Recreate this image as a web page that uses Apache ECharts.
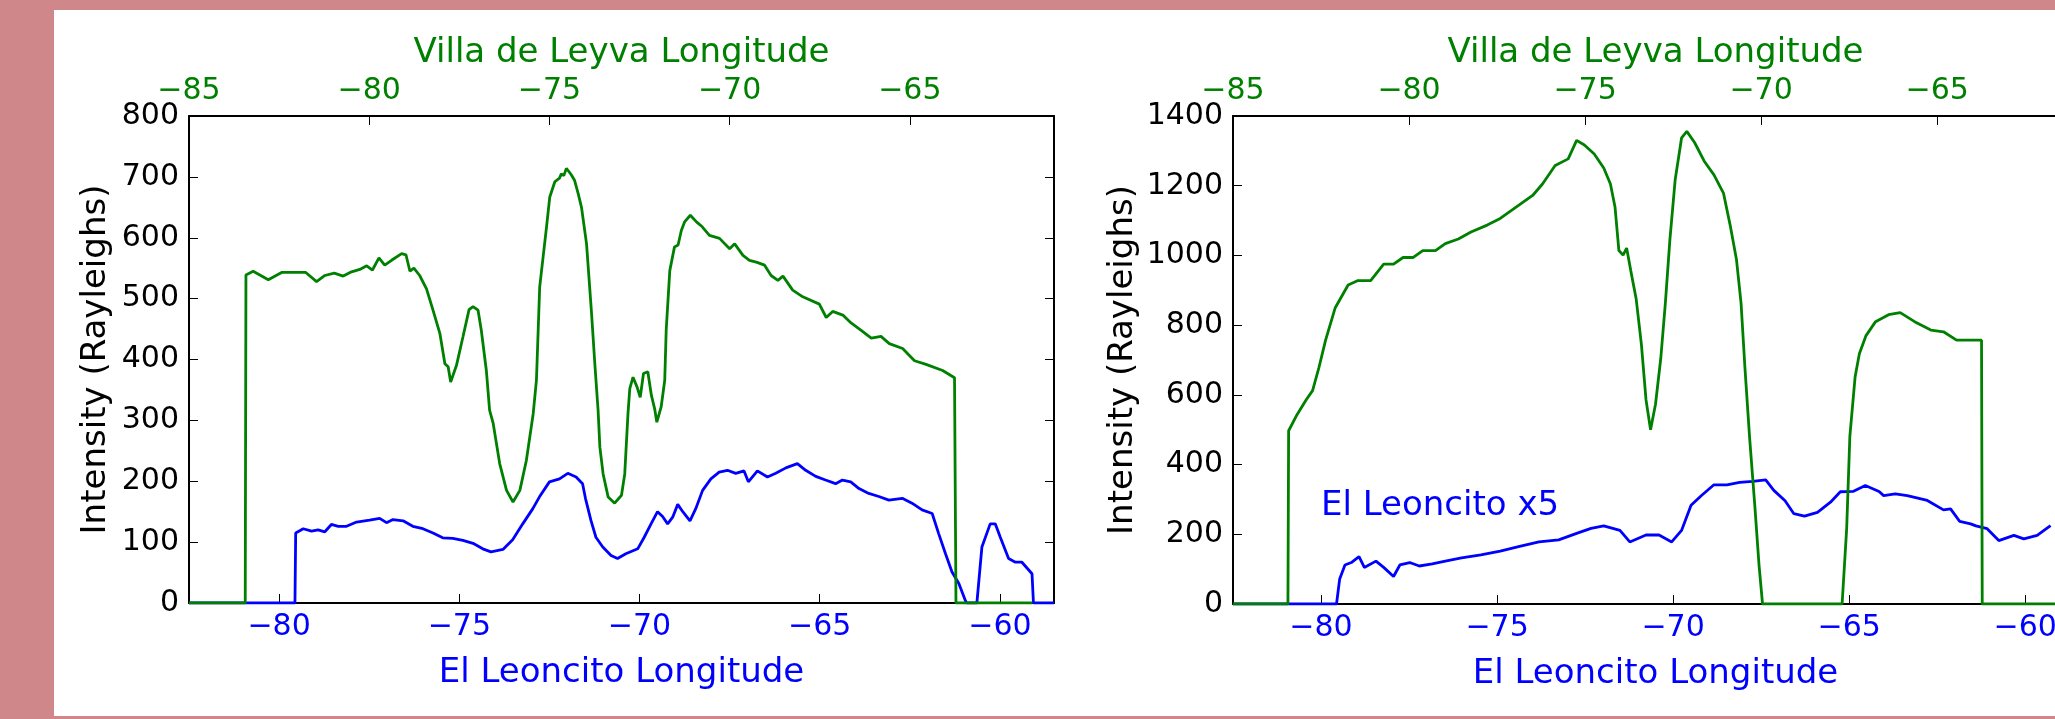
<!DOCTYPE html>
<html>
<head>
<meta charset="utf-8">
<title>Intensity vs longitude</title>
<script src="https://cdn.jsdelivr.net/npm/echarts@6/dist/echarts.min.js"></script>
<style>
  html, body { margin: 0; padding: 0; background: #d0878a; }
  #main { width: 2055px; height: 719px; }
</style>
</head>
<body>
<div id="main"></div>
<script>
// ---- data (longitude in degrees, intensity in Rayleighs) ----
// left panel, Villa de Leyva (top axis)
var leftVillaLon = [-85.0, -83.44, -83.42, -83.22, -82.80, -82.43, -81.76, -81.46, -81.23, -80.97, -80.72, -80.49, -80.26, -80.07, -79.91, -79.73, -79.57, -79.38, -79.10, -78.98, -78.87, -78.76, -78.60, -78.41, -78.23, -78.04, -77.90, -77.81, -77.74, -77.58, -77.40, -77.23, -77.12, -76.98, -76.89, -76.75, -76.66, -76.56, -76.38, -76.19, -76.01, -75.82, -75.64, -75.45, -75.36, -75.27, -75.08, -74.99, -74.85, -74.72, -74.67, -74.60, -74.53, -74.45, -74.39, -74.30, -74.20, -74.11, -73.97, -73.83, -73.74, -73.65, -73.60, -73.51, -73.37, -73.19, -73.00, -72.91, -72.82, -72.77, -72.68, -72.57, -72.48, -72.39, -72.27, -72.17, -72.08, -72.02, -71.90, -71.80, -71.76, -71.66, -71.53, -71.43, -71.34, -71.25, -71.09, -70.92, -70.76, -70.56, -70.28, -70.00, -69.86, -69.63, -69.45, -69.26, -69.03, -68.85, -68.66, -68.52, -68.25, -67.97, -67.51, -67.32, -67.14, -66.86, -66.63, -66.35, -66.07, -65.80, -65.57, -65.20, -64.87, -64.55, -64.09, -63.76, -63.72, -61.6];
var leftVillaR = [0, 0, 539, 545, 531, 543, 543, 528, 538, 542, 537, 544, 548, 554, 547, 567, 555, 563, 574, 572, 545, 550, 538, 516, 481, 443, 393, 388, 363, 390, 437, 482, 487, 481, 448, 382, 317, 295, 229, 185, 166, 185, 234, 311, 366, 519, 618, 667, 692, 698, 705, 702, 714, 708, 703, 694, 672, 650, 590, 475, 393, 317, 256, 212, 174, 164, 177, 212, 311, 352, 371, 355, 338, 377, 380, 341, 319, 297, 322, 366, 448, 546, 585, 588, 612, 626, 637, 626, 618, 604, 599, 582, 590, 571, 563, 560, 555, 538, 530, 537, 514, 503, 491, 469, 479, 473, 460, 448, 435, 438, 426, 418, 398, 392, 382, 370, 0, 0];
// left panel, El Leoncito (bottom axis)
var leftLeonLon = [-82.5, -79.56, -79.54, -79.33, -79.10, -78.92, -78.73, -78.55, -78.36, -78.13, -77.85, -77.49, -77.21, -77.02, -76.84, -76.56, -76.29, -76.01, -75.73, -75.46, -75.18, -74.90, -74.62, -74.35, -74.12, -73.79, -73.52, -73.24, -72.96, -72.78, -72.50, -72.22, -71.99, -71.76, -71.58, -71.50, -71.35, -71.21, -71.02, -70.79, -70.61, -70.38, -70.05, -69.87, -69.68, -69.50, -69.36, -69.22, -69.08, -68.94, -68.80, -68.60, -68.44, -68.25, -68.02, -67.79, -67.56, -67.33, -67.10, -66.98, -66.73, -66.45, -66.22, -65.94, -65.62, -65.39, -65.11, -64.84, -64.56, -64.37, -64.14, -63.91, -63.64, -63.36, -63.08, -62.71, -62.44, -62.16, -61.88, -61.70, -61.51, -61.33, -61.14, -60.96, -60.92, -60.64, -60.50, -60.27, -60.13, -59.99, -59.76, -59.57, -59.39, -59.11, -59.07, -58.5];
var leftLeonR = [0, 0, 115, 122, 118, 120, 117, 129, 126, 126, 133, 136, 139, 132, 137, 135, 126, 122, 115, 107, 106, 103, 98, 89, 84, 88, 104, 130, 155, 174, 199, 204, 213, 207, 196, 172, 136, 108, 92, 78, 73, 81, 89, 108, 130, 150, 142, 130, 141, 162, 150, 135, 155, 185, 204, 215, 218, 213, 217, 199, 217, 207, 213, 222, 229, 218, 208, 202, 196, 202, 199, 188, 180, 175, 169, 172, 164, 153, 147, 114, 81, 51, 32, 4, 0, 0, 92, 130, 130, 108, 73, 67, 67, 48, 0, 0];
// right panel, Villa de Leyva (top axis)
var rightVillaLon = [-85.0, -83.44, -83.42, -83.20, -82.92, -82.74, -82.56, -82.37, -82.10, -81.73, -81.45, -81.09, -80.72, -80.44, -80.17, -79.89, -79.61, -79.25, -78.97, -78.60, -78.24, -77.78, -77.41, -76.95, -76.49, -76.21, -75.85, -75.48, -75.24, -75.02, -74.74, -74.47, -74.28, -74.15, -74.04, -73.92, -73.82, -73.70, -73.55, -73.40, -73.27, -73.14, -73.00, -72.85, -72.72, -72.59, -72.44, -72.26, -72.11, -71.89, -71.62, -71.34, -71.07, -70.88, -70.70, -70.57, -70.46, -70.33, -70.18, -70.06, -69.96, -67.70, -67.57, -67.48, -67.33, -67.21, -67.02, -66.75, -66.38, -66.05, -65.64, -65.18, -64.82, -64.45, -64.00, -63.74, -63.72, -61.6];
var rightVillaR = [0, 0, 497, 540, 586, 612, 678, 757, 849, 915, 928, 928, 975, 975, 994, 994, 1014, 1014, 1034, 1047, 1067, 1087, 1106, 1139, 1172, 1205, 1258, 1277, 1330, 1317, 1291, 1251, 1205, 1139, 1014, 1001, 1021, 955, 876, 744, 586, 500, 573, 705, 863, 1047, 1218, 1337, 1356, 1324, 1271, 1231, 1179, 1087, 988, 863, 678, 481, 283, 112, 0, 0, 217, 481, 652, 718, 770, 810, 830, 836, 810, 786, 781, 757, 757, 757, 0, 0];
// right panel, El Leoncito x5 (bottom axis)
var rightLeonLon = [-82.5, -79.56, -79.47, -79.32, -79.14, -78.92, -78.77, -78.44, -78.22, -77.94, -77.76, -77.48, -77.21, -76.84, -76.47, -76.01, -75.46, -74.91, -74.36, -73.81, -73.25, -72.70, -72.33, -71.97, -71.51, -71.23, -70.77, -70.40, -70.04, -69.76, -69.49, -69.21, -68.84, -68.47, -68.11, -67.74, -67.37, -67.14, -66.82, -66.57, -66.27, -65.90, -65.53, -65.25, -64.89, -64.54, -64.15, -64.02, -63.69, -63.35, -62.78, -62.32, -62.12, -61.86, -61.55, -61.40, -61.08, -60.75, -60.32, -60.04, -59.66, -59.28];
var rightLeonR = [0, 0, 72, 112, 119, 136, 105, 123, 105, 79, 112, 119, 109, 115, 123, 132, 141, 152, 165, 178, 184, 204, 217, 224, 211, 178, 198, 198, 178, 211, 283, 310, 342, 342, 349, 352, 356, 326, 296, 259, 252, 263, 292, 322, 323, 340, 323, 311, 316, 311, 297, 270, 273, 237, 230, 224, 216, 182, 197, 187, 197, 225];

// tick labels
var bottomTicks = [-80, -75, -70, -65, -60];
var topTicks = [-85, -80, -75, -70, -65];

var FONT = 'DejaVu Sans';
var GREEN = '#008000';
var BLUE = '#0000ff';

function pairs(xs, ys) {
  return xs.map(function (x, i) { return [x, ys[i]]; });
}
function fmt(v) {
  return v < 0 ? '\u2212' + Math.abs(v) : String(v);
}

function xAxisDef(grid, pos, min, max, ticks, color, name, gap, margin) {
  return {
    type: 'value', gridIndex: grid, position: pos, min: min, max: max,
    name: name, nameLocation: 'middle', nameGap: gap,
    nameTextStyle: { color: color, fontFamily: FONT, fontSize: 34 },
    axisLine: { show: true, onZero: false, lineStyle: { color: '#000', width: 2 } },
    axisTick: { show: true, inside: true, length: 9, customValues: ticks, lineStyle: { color: '#000', width: 1 } },
    axisLabel: {
      show: true, customValues: ticks, formatter: fmt, color: color,
      fontFamily: FONT, fontSize: 30, margin: margin,
      alignMinLabel: 'center', alignMaxLabel: 'center', hideOverlap: false
    },
    splitLine: { show: false }
  };
}

function yAxisDef(grid, pos, max, step, showLabel, gap) {
  return {
    type: 'value', gridIndex: grid, position: pos, min: 0, max: max, interval: step,
    name: showLabel ? 'Intensity (Rayleighs)' : '', nameLocation: 'middle', nameGap: gap,
    nameTextStyle: { color: '#000', fontFamily: FONT, fontSize: 34 },
    axisLine: { show: true, onZero: false, lineStyle: { color: '#000', width: 2 } },
    axisTick: { show: true, inside: true, length: 9, lineStyle: { color: '#000', width: 1 } },
    axisLabel: {
      show: showLabel, color: '#000', fontFamily: FONT, fontSize: 30, margin: 10,
      formatter: function (v) { return String(v); }
    },
    splitLine: { show: false }
  };
}

function lineSeries(x, y, data, color) {
  return {
    type: 'line', xAxisIndex: x, yAxisIndex: y, data: data,
    symbol: 'none', smooth: false, clip: true,
    lineStyle: { color: color, width: 2.8 }, itemStyle: { color: color }
  };
}

var myChart = echarts.init(document.getElementById('main'));

var panel = { type: 'rect', z: -10, silent: true, shape: { x: 54, y: 10, width: 2010, height: 706 }, style: { fill: '#ffffff' } };

var option = {
  animation: false,
  backgroundColor: '#d0878a',
  textStyle: { fontFamily: FONT },
  grid: [
    { left: 189, top: 116, width: 865, height: 487, outerBoundsMode: 'none' },
    { left: 1233, top: 116, width: 845, height: 488, outerBoundsMode: 'none' }
  ],
  xAxis: [
    xAxisDef(0, 'bottom', -82.5, -58.5, bottomTicks, BLUE, 'El Leoncito Longitude', 53, 9),
    xAxisDef(0, 'top', -85, -61, topTicks, GREEN, 'Villa de Leyva Longitude', 46, 10),
    xAxisDef(1, 'bottom', -82.5, -58.5, bottomTicks, BLUE, 'El Leoncito Longitude', 53, 9),
    xAxisDef(1, 'top', -85, -61, topTicks, GREEN, 'Villa de Leyva Longitude', 46, 10)
  ],
  yAxis: [
    yAxisDef(0, 'left', 800, 100, true, 76),
    yAxisDef(0, 'right', 800, 100, false, 0),
    yAxisDef(1, 'left', 1400, 200, true, 93),
    yAxisDef(1, 'right', 1400, 200, false, 0)
  ],
  graphic: [panel],
  series: [
    lineSeries(0, 0, pairs(leftLeonLon, leftLeonR), BLUE),
    lineSeries(1, 0, pairs(leftVillaLon, leftVillaR), GREEN),
    lineSeries(2, 2, pairs(rightLeonLon, rightLeonR), BLUE),
    lineSeries(3, 2, pairs(rightVillaLon, rightVillaR), GREEN)
  ]
};

myChart.setOption(option);

// annotation in the right panel, anchored at (-80, 250)
var anchor = myChart.convertToPixel({ xAxisIndex: 2, yAxisIndex: 2 }, [-80, 250]);
myChart.setOption({
  graphic: [
    panel,
    { type: 'text', z: 10, x: anchor[0], y: anchor[1] + 6, style: { text: 'El Leoncito x5', fill: BLUE, font: '34px "DejaVu Sans"', textAlign: 'left', textVerticalAlign: 'bottom' } }
  ]
});
</script>
</body>
</html>
